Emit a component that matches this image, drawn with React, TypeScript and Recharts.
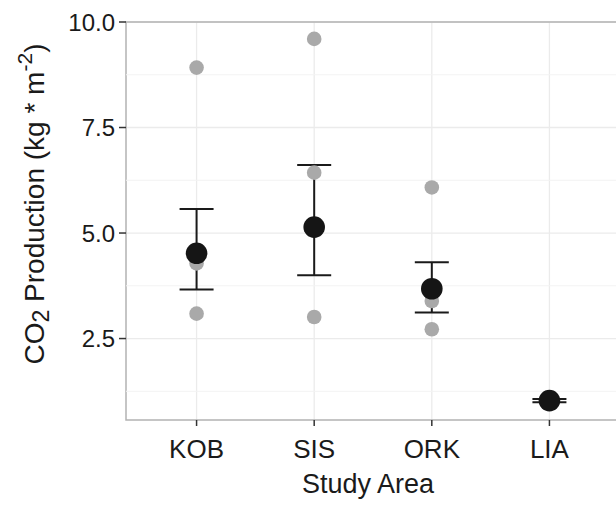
import React from 'react';
import {
  ComposedChart,
  Scatter,
  XAxis,
  YAxis,
  CartesianGrid,
  ErrorBar,
  ReferenceLine,
  ReferenceArea,
} from 'recharts';

const areas = ['KOB', 'SIS', 'ORK', 'LIA'];
const sampleValues = [
  [8.92, 4.28, 3.09],
  [9.6, 6.43, 3.01],
  [6.08, 3.39, 2.72],
  [1.05, 1.02],
];
const means = [4.52, 5.14, 3.68, 1.03];
const lowers = [3.66, 4.0, 3.12, 0.99];
const uppers = [5.57, 6.61, 4.31, 1.07];
const yTicks = [2.5, 5.0, 7.5, 10.0];
const minorBreaks = [1.25, 3.75, 6.25, 8.75];

const FONT = '"Liberation Sans", Arial, Helvetica, sans-serif';

const samplePoints = sampleValues.flatMap((vals, i) =>
  vals.map((v) => ({ x: i + 1, y: v }))
);

const meanPoints = means.map((m, i) => ({
  x: i + 1,
  y: m,
  err: [m - lowers[i], uppers[i] - m],
}));

const GrayDot = (p: any) => <circle cx={p.cx} cy={p.cy} r={7.3} fill="#a9a9a9" />;
const MeanDot = (p: any) => <circle cx={p.cx} cy={p.cy} r={10.8} fill="#151515" />;

export default function App() {
  return (
    <div
      style={{
        position: 'absolute',
        left: 0,
        top: 0,
        width: 616,
        height: 506,
        overflow: 'hidden',
        background: '#fff',
      }}
    >
      <ComposedChart
        width={630}
        height={506}
        margin={{ top: 22, right: 10, bottom: 26, left: 0 }}
      >
        <CartesianGrid
          stroke="#ebebeb"
          strokeWidth={1.3}
          horizontalValues={yTicks}
          verticalValues={[1, 2, 3, 4]}
        />
        {minorBreaks.map((b) => (
          <ReferenceLine key={b} y={b} stroke="#f3f3f3" strokeWidth={1} />
        ))}
        <XAxis
          type="number"
          dataKey="x"
          domain={[0.4, 4.6]}
          ticks={[1, 2, 3, 4]}
          tickFormatter={(i: number) => areas[i - 1]}
          allowDataOverflow
          height={60}
          tickSize={6}
          tickMargin={14}
          axisLine={false}
          tickLine={{ stroke: '#333', strokeWidth: 1.5 }}
          tick={{ fill: '#1a1a1a', fontSize: 26, fontFamily: FONT }}
        />
        <YAxis
          type="number"
          dataKey="y"
          domain={[0.57, 10.0]}
          ticks={yTicks}
          tickFormatter={(v: number) => v.toFixed(1)}
          allowDataOverflow
          width={126}
          tickSize={7}
          tickMargin={4}
          axisLine={false}
          tickLine={{ stroke: '#333', strokeWidth: 1.5 }}
          tick={{ fill: '#1a1a1a', fontSize: 24, fontFamily: FONT }}
        />
        <ReferenceArea
          x1={0.4}
          x2={4.6}
          y1={0.57}
          y2={10.0}
          fill="none"
          stroke="#b3b3b3"
          strokeWidth={1.5}
        />
        <Scatter data={samplePoints} shape={GrayDot} isAnimationActive={false} />
        <Scatter data={meanPoints} shape={MeanDot} isAnimationActive={false}>
          <ErrorBar
            dataKey="err"
            direction="y"
            width={17}
            stroke="#1a1a1a"
            strokeWidth={2}
            isAnimationActive={false}
          />
        </Scatter>
      </ComposedChart>
      <svg
        width={616}
        height={506}
        style={{ position: 'absolute', left: 0, top: 0, pointerEvents: 'none' }}
      >
        <text
          transform="rotate(-90)"
          x={-204}
          y={44}
          textAnchor="middle"
          fontSize={28}
          fontFamily={FONT}
          fill="#1a1a1a"
        >
          CO
          <tspan dy={5} fontSize={23}>2</tspan>
          <tspan dy={-5}> Production (kg * m</tspan>
          <tspan dy={-12} fontSize={21}>-2</tspan>
          <tspan dy={12}>)</tspan>
        </text>
        <text
          x={368}
          y={493}
          textAnchor="middle"
          fontSize={27}
          fontFamily={FONT}
          fill="#1a1a1a"
        >
          Study Area
        </text>
      </svg>
    </div>
  );
}
